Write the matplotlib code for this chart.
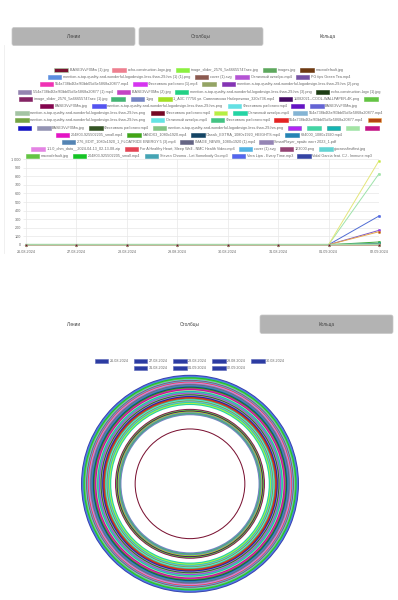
import matplotlib.pyplot as plt
from matplotlib.patches import FancyBboxPatch, Rectangle

plt.rcParams['font.family'] = ['Liberation Sans', 'DejaVu Sans']

dates = ['26.08.2024', '27.08.2024', '28.08.2024', '29.08.2024',
         '30.08.2024', '31.08.2024', '01.09.2024', '02.09.2024']

files = [
    'BASE3VvFXMw (1).jpg', 'echo-construction-logo.jpg', 'image_slider_2576_5a66655747aec.jpg',
    'images.jpg', 'macrodefault.jpg',
    'mention-a-top-quality-and-wonderful-logodesign-less-than-29-hrs (1) (1).png', 'cover (1).svg',
    'Отличный октябрь.mp4', 'PG tips Green Tea.mp4',
    '554a738b4f2af83bb05d6e5868a20877.mp4', 'Фестиваль работяги (1).mp4', '',
    'mention-a-top-quality-and-wonderful-logodesign-less-than-29-hrs (2).png',
    '554a738b4f2af83bb05d6e5868a20877 (1).mp4', 'BASE3VvFXMw (2).jpg',
    'mention-a-top-quality-and-wonderful-logodesign-less-than-29-hrs (3).png',
    'echo-construction-logo (1).jpg',
    'image_slider_2576_5a66655747aec (1).jpg', '', '1.jpg',
    '1_A3C 77756 ул. Савеловская Набережная_320x736.mp4', '11082021--COOL-WALLPAPER-4K.png', '',
    'BASE3VvFXMw.jpg', 'mention-a-top-quality-and-wonderful-logodesign-less-than-29-hrs.png',
    'Фестиваль работяги.mp4', '', 'BASE3VvFXMw.jpg',
    'mention-a-top-quality-and-wonderful-logodesign-less-than-29-hrs.png', 'Фестиваль работяги.mp4', '',
    'Отличный октябрь.mp4', '554a738b4f2af83bb05d6e5868a20877.mp4',
    'mention-a-top-quality-and-wonderful-logodesign-less-than-29-hrs.png', 'Отличный октябрь.mp4',
    'Фестиваль работяги.mp4', '554a738b4f2af83bb05d6e5868a20877.mp4', '',
    '', 'BASE3VvFXMw.jpg', 'Фестиваль работяги.mp4',
    'mention-a-top-quality-and-wonderful-logodesign-less-than-29-hrs.png', '', '', '', '', '',
    '204803-925502205_small.mp4', 'NANOX3_1080x1920.mp4', 'Classik_EXTRA_1080x1920_HEIGHTS.mp4',
    '684000_1080x1920.mp4',
    '276_EDIT_1080x1920_1_FLOATRIDE ENERGY 5 (3).mp4', 'IMAGE_NEWS_1080x1920 (1).mp4',
    'SmartPlayer_прайс лист 2023_1.pdf',
    '1.1.0_chm_data__2024-04-13_02-13-08.zip', 'For A Healthy Heart, Sleep Well - NMC Health Video.mp4',
    'cover (1).svg', '123000.png', 'giocrossfirstfirst.jpg',
    'macrodefault.jpg', '204803-925502205_small.mp4', 'Steven Chroma - Let Somebody Go.mp3',
    'Vera Lipa - Every Time.mp3', 'Vidal Garcia feat. CJ - Immune.mp3',
]

colors = [
    '#7a1232', '#ee8090', '#8cf040', '#5ea85e', '#6e3a12',
    '#5c8fe0', '#8c5a50', '#b454d4', '#7652a4',
    '#f032b4', '#d634f0', '#94a464', '#8434b4',
    '#9484b0', '#c444c4', '#22d084', '#1c3c14',
    '#842464', '#44b474', '#7484c4', '#a4e024', '#440a64', '#64c444',
    '#84064f', '#5454f0', '#64e0e4', '#6414c4', '#6464d4',
    '#a4c4a4', '#740824', '#b4f044', '#24d4a4', '#84b4d4',
    '#74a444', '#64e4e4', '#44c484', '#e42424', '#b44414',
    '#1414c4', '#9494b4', '#345424', '#84c484', '#b424f4', '#44d4a4', '#14b4b4', '#a4e4a4', '#c41484',
    '#e414c4', '#44a414', '#144464', '#2484b4',
    '#5484b4', '#646484', '#9484b4',
    '#e484e4', '#e44454', '#54b4e4', '#944474', '#64d4d4',
    '#64c444', '#14c424', '#44a4b4', '#5464f0', '#3444a4',
]

# files are all at zero from 26.08 to 01.09
values_before = [0, 0, 0, 0, 0, 0, 0]
values_last_day = [
    2, 0, 0, 0, 0,
    0, 0, 0, 0,
    0, 0, 0, 0,
    0, 0, 0, 0,
    0, 3, 4, 2, 5, 3,
    2, 0, 0, 0, 0,
    0, 0, 984, 6, 4,
    3, 2, 5, 3, 152,
    4, 2, 3, 6, 168, 3, 16, 831, 2,
    4, 32, 3, 5,
    2, 3, 2,
    4, 3, 2, 5, 3,
    6, 4, 3, 336, 2,
]

y_ticks = [0, 100, 200, 300, 400, 500, 600, 700, 800, 900, 1000]
y_tick_labels = ['0', '100', '200', '300', '400', '500', '600', '700', '800', '900', '1 000']

buttons = ['Линии', 'Столбцы', 'Кольца']

# line colours that differ from the legend fill
line_colors = {0: '#a6d6a6', 30: '#e4e67a', 45: '#9ee3aa', 62: '#4f6cd4',
               42: '#7c56c6', 37: '#e6a64a', 48: '#3faa3f', 44: '#2a9f8f'}

legend_rows = [5, 4, 4, 4, 6, 5, 5, 5, 9, 4, 3, 5, 5]

W, H = 398, 600
fig = plt.figure(figsize=(W / 100, H / 100), dpi=100)
bg = fig.add_axes([0, 0, 1, 1])
bg.set_xlim(0, W)
bg.set_ylim(H, 0)
bg.axis('off')
renderer = fig.canvas.get_renderer()

txt_col = '#666666'


def button(x0, x1, y0, y1, label, active):
    if active:
        bg.add_patch(FancyBboxPatch((x0, y0), x1 - x0, y1 - y0,
                                    boxstyle='round,pad=0,rounding_size=2',
                                    fc='#b3b3b3', ec='#c8c8c8', lw=0.5))
    bg.text((x0 + x1) / 2, (y0 + y1) / 2, label, fontsize=3.4, color='#444444',
            ha='center', va='center')


# top buttons
button(12, 135, 27.5, 45.5, buttons[0], True)
button(139, 263, 27.5, 45.5, buttons[1], True)
button(263, 393, 27.5, 45.5, buttons[2], False)

# faint container border
bg.plot([4.3, 4.3], [45, 253], color='#eeeeee', lw=0.6)

# legend of the line chart
sw_w, sw_h = 13.5, 4
idx = 0
for r, n in enumerate(legend_rows):
    items = list(range(idx, idx + n))
    idx += n
    texts, widths = [], []
    for i in items:
        t = bg.text(0, 0, files[i], fontsize=2.7, color=txt_col, ha='left', va='center')
        w = t.get_window_extent(renderer).width if files[i] else 0
        texts.append(t)
        widths.append(sw_w + 1.6 + w)
    total = sum(widths) + 4.2 * (n - 1)
    x = 199 - total / 2
    y = 70 + r * 7.2
    for i, t, w in zip(items, texts, widths):
        bg.add_patch(Rectangle((x, y - sw_h / 2), sw_w, sw_h, fc=colors[i],
                               ec=line_colors.get(i, colors[i]), lw=0.4))
        t.set_position((x + sw_w + 1.6, y))
        x += w + 4.2

# line chart
ax = fig.add_axes([26 / W, 1 - 244.7 / H, (379 - 26) / W, (244.7 - 159.3) / H])
xs = list(range(len(dates)))
for i in reversed(range(len(files))):
    vals = values_before + [values_last_day[i]]
    lc = line_colors.get(i, colors[i])
    ax.plot(xs, vals, color=lc, lw=0.7 if i else 1.3, marker='o', ms=1.8,
            mfc=colors[i], mec=lc, mew=0.3, clip_on=False, zorder=3)
ax.set_xlim(0, 7)
ax.set_ylim(0, 1000)
ax.set_xticks(xs)
ax.set_xticklabels(dates)
ax.set_yticks(y_ticks)
ax.set_yticklabels(y_tick_labels)
ax.grid(True, color='#e8e8e8', lw=0.5)
ax.set_axisbelow(True)
for s in ax.spines.values():
    s.set_visible(False)
ax.tick_params(axis='both', labelsize=2.7, labelcolor=txt_col, color='#e8e8e8',
               length=2.5, width=0.5, pad=1.2)

# second set of buttons
button(12, 135, 315, 333.5, buttons[0], False)
button(128, 252, 315, 333.5, buttons[1], False)
button(260, 393, 315, 333.5, buttons[2], True)

# doughnut legend
ring_rows = [dates[:5], dates[5:]]
for r, row in enumerate(ring_rows):
    widths = []
    texts = []
    for d in row:
        t = bg.text(0, 0, d, fontsize=2.7, color=txt_col, ha='left', va='center')
        texts.append(t)
        widths.append(sw_w + 1.6 + t.get_window_extent(renderer).width)
    total = sum(widths) + 5 * (len(row) - 1)
    x = 190 - total / 2
    y = 361 + r * 7.3
    for t, w in zip(texts, widths):
        bg.add_patch(Rectangle((x, y - sw_h / 2), sw_w, sw_h, fc='#2c3ca2', ec='#5a66b8', lw=0.4))
        t.set_position((x + sw_w + 1.6, y))
        x += w + 5

# doughnut: one ring per file, last file outermost, cutout 50 %
R = 109
pax = fig.add_axes([(190 - R) / W, 1 - (483.8 + R) / H, 2 * R / W, 2 * R / H])
n = len(files)
step = 0.5 / n
for i in reversed(range(n)):
    vals = values_before + [values_last_day[i]]
    if sum(vals) == 0:
        continue
    nxt_zero = i == 0 or values_last_day[i - 1] == 0
    pax.pie(vals, radius=0.5 + (i + 1) * step, colors=[colors[i]] * len(vals),
            startangle=90, counterclock=False,
            wedgeprops=dict(width=step * (1.2 if nxt_zero else 3.5), lw=0))
pax.set_xlim(-1, 1)
pax.set_ylim(-1, 1)
pax.axis('off')

fig.savefig('out.png', dpi=100)
